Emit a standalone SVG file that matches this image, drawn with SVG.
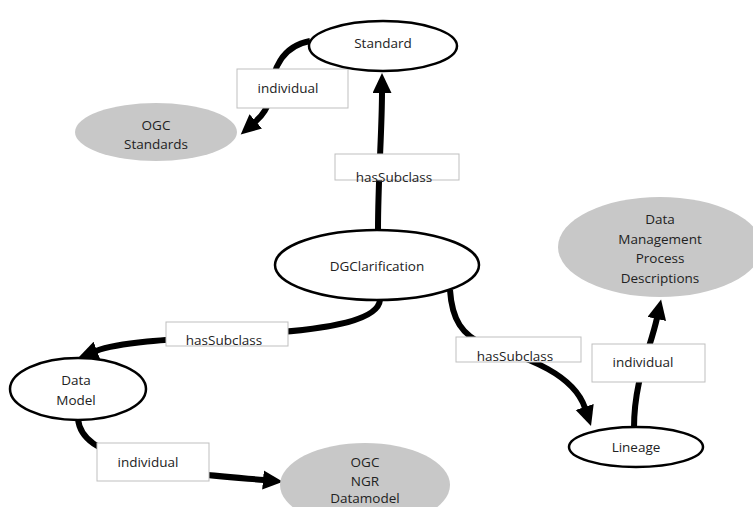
<svg xmlns="http://www.w3.org/2000/svg" width="753" height="507" viewBox="0 0 753 507">
<style>
.node{fill:#fff;stroke:#000;stroke-width:2.5}
.inst{fill:#c8c8c8;stroke:none}
.lbl{fill:#fff;stroke:#bfbfbf;stroke-width:1}
.edge{fill:none;stroke:#000;stroke-width:6}
text{font-family:"Open Sans","Liberation Sans",sans-serif;font-size:13.5px;fill:#222;text-anchor:middle}
</style>
<defs>
<marker id="ah" markerUnits="userSpaceOnUse" markerWidth="21" markerHeight="20" refX="1" refY="9.5" orient="auto">
<path d="M0,0 L20,9.5 L0,19 z" fill="#000"/>
</marker>
</defs>
<g id="connectors">
<path class="edge" d="M378 230 C378 180 382 130 382 92" marker-end="url(#ah)"/>
<path class="edge" d="M310 41 C282 46 272 70 270 95 C268 108 263 115 255 122" marker-end="url(#ah)"/>
<path class="edge" d="M380 300 C378 320 330 328 280 332 C200 338 125 340 96 351" marker-end="url(#ah)"/>
<path class="edge" d="M78 419 C80 440 100 450 130 460 C170 474 230 477 264 480" marker-end="url(#ah)"/>
<path class="edge" d="M450 290 C452 320 462 335 485 345 C530 358 574 375 585 408" marker-end="url(#ah)"/>
<path class="edge" d="M634 428 C634 380 650 350 657 318" marker-end="url(#ah)"/>
<g id="label-individual-1"><rect class="lbl" x="237" y="69" width="111" height="39"/><text x="288" y="93">individual</text></g>
<g id="label-hasSubclass-1"><rect class="lbl" x="335" y="154" width="124" height="26"/><text x="394" y="182">hasSubclass</text></g>
<g id="label-hasSubclass-2"><rect class="lbl" x="166" y="322" width="122" height="24"/><text x="224" y="345">hasSubclass</text></g>
<g id="label-hasSubclass-3"><rect class="lbl" x="456" y="337" width="125" height="25"/><text x="515" y="361">hasSubclass</text></g>
<g id="label-individual-2"><rect class="lbl" x="97" y="443" width="112" height="38"/><text x="148" y="467">individual</text></g>
<g id="label-individual-3"><rect class="lbl" x="592" y="344" width="113" height="38"/><text x="643" y="367">individual</text></g>
</g>
<g id="node-standard"><ellipse class="node" cx="383" cy="46" rx="74" ry="25"/><text x="383" y="48">Standard</text></g>
<g id="node-ogc-standards"><ellipse class="inst" cx="156" cy="132" rx="81" ry="29"/><text x="156" y="130">OGC</text><text x="156" y="149">Standards</text></g>
<g id="node-dgclarification"><ellipse class="node" cx="377" cy="265" rx="102" ry="35"/><text x="377" y="271">DGClarification</text></g>
<g id="node-data-model"><ellipse class="node" cx="78" cy="389" rx="68" ry="31"/><text x="76" y="385">Data</text><text x="76" y="405">Model</text></g>
<g id="node-ogc-ngr"><ellipse class="inst" cx="365" cy="485" rx="85" ry="42"/><text x="365" y="467">OGC</text><text x="365" y="486">NGR</text><text x="365" y="503">Datamodel</text></g>
<g id="node-dmpd"><ellipse class="inst" cx="660" cy="247" rx="102" ry="50"/><text x="660" y="224">Data</text><text x="660" y="244">Management</text><text x="660" y="263">Process</text><text x="660" y="283">Descriptions</text></g>
<g id="node-lineage"><ellipse class="node" cx="636" cy="447" rx="67" ry="20"/><text x="636" y="452">Lineage</text></g>
</svg>
